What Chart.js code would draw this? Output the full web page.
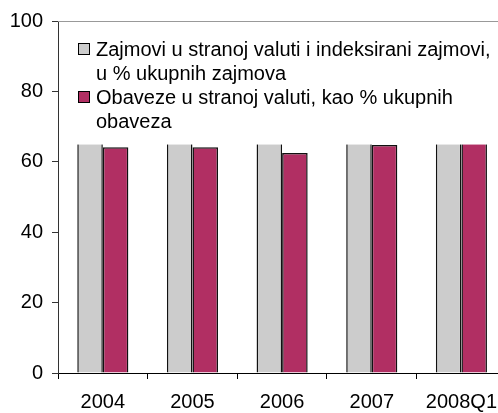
<!DOCTYPE html>
<html>
<head>
<meta charset="utf-8">
<script src="https://cdn.jsdelivr.net/npm/chart.js@4"></script>
<style>
    body { margin: 0; overflow: hidden; background: #fff; }
    #wrap { width: 508px; height: 413px; }
</style>
</head>
<body>
<div id="wrap"><canvas id="myChart" width="508" height="413"></canvas></div>
<script>
// chart data
const categories = ["2004", "2005", "2006", "2007", "2008Q1"];
const loansFx = [72, 74, 73, 75, 76]; // tops hidden behind the legend
const liabilitiesFx = [64.1, 64.1, 62.5, 64.8, 67];
const seriesNames = [
    ["Zajmovi u stranoj valuti i indeksirani zajmovi,", "u % ukupnih zajmova"],
    ["Obaveze u stranoj valuti, kao % ukupnih", "obaveza"]
];
const yTicks = [0, 20, 40, 60, 80, 100];

const grayColor = "#CCCCCC";
const maroonColor = "#B12F63";
const fontFamily = "'Liberation Sans', Arial, sans-serif";

// legend drawn as a white box over the top of the bars
const boxLegend = {
    id: "boxLegend",
    afterDatasetsDraw(chart) {
        const ctx = chart.ctx;
        const area = chart.chartArea;
        const yScale = chart.scales.y;
        const bottom = yScale.getPixelForValue(64.9);

        ctx.save();
        ctx.fillStyle = "#fff";
        ctx.fillRect(area.left + 4, area.top + 1, area.right - area.left, bottom - area.top - 1);

        // top border of the plot
        ctx.strokeStyle = "#999";
        ctx.lineWidth = 1;
        ctx.beginPath();
        ctx.moveTo(area.left, area.top + 0.5);
        ctx.lineTo(area.right, area.top + 0.5);
        ctx.stroke();

        ctx.font = "20px " + fontFamily;
        ctx.fillStyle = "#000";
        ctx.textBaseline = "alphabetic";
        const colors = [grayColor, maroonColor];
        let baseline = 56;
        seriesNames.forEach((lines, i) => {
            ctx.fillStyle = colors[i];
            ctx.fillRect(78, baseline - 13, 12, 12);
            ctx.strokeStyle = "#000";
            ctx.strokeRect(78.5, baseline - 12.5, 11, 11);
            ctx.fillStyle = "#000";
            lines.forEach((line, j) => {
                ctx.fillText(line, 96, baseline + j * 24);
            });
            baseline += 48;
        });
        ctx.restore();
    }
};

const ctx = document.getElementById("myChart").getContext("2d");
const myChart = new Chart(ctx, {
    type: "bar",
    data: {
        labels: categories,
        datasets: [
            {
                label: seriesNames[0].join(" "),
                data: loansFx,
                backgroundColor: grayColor,
                borderColor: "#111",
                borderWidth: 1.5,
                categoryPercentage: 0.57,
                barPercentage: 1.0
            },
            {
                label: seriesNames[1].join(" "),
                data: liabilitiesFx,
                backgroundColor: maroonColor,
                borderColor: "#111",
                borderWidth: 1.5,
                categoryPercentage: 0.57,
                barPercentage: 1.0
            }
        ]
    },
    options: {
        responsive: false,
        animation: false,
        layout: { padding: { top: 20, right: 0, left: 0, bottom: 0 } },
        plugins: {
            legend: { display: false },
            tooltip: { enabled: false }
        },
        scales: {
            x: {
                grid: { drawOnChartArea: false, tickLength: 6, color: "#000" },
                border: { color: "#000" },
                ticks: {
                    color: "#000",
                    font: { size: 20, family: fontFamily },
                    padding: 11,
                    maxRotation: 0
                },
                afterFit(scale) { scale.height = 40; }
            },
            y: {
                min: 0,
                max: 100,
                grid: { drawOnChartArea: false, tickLength: 6, color: "#333" },
                border: { color: "#333" },
                afterBuildTicks(scale) {
                    scale.ticks = yTicks.map(v => ({ value: v }));
                },
                ticks: {
                    color: "#000",
                    font: { size: 20, family: fontFamily },
                    padding: 9
                },
                afterFit(scale) { scale.width = 58; }
            }
        }
    },
    plugins: [boxLegend]
});
</script>
</body>
</html>
